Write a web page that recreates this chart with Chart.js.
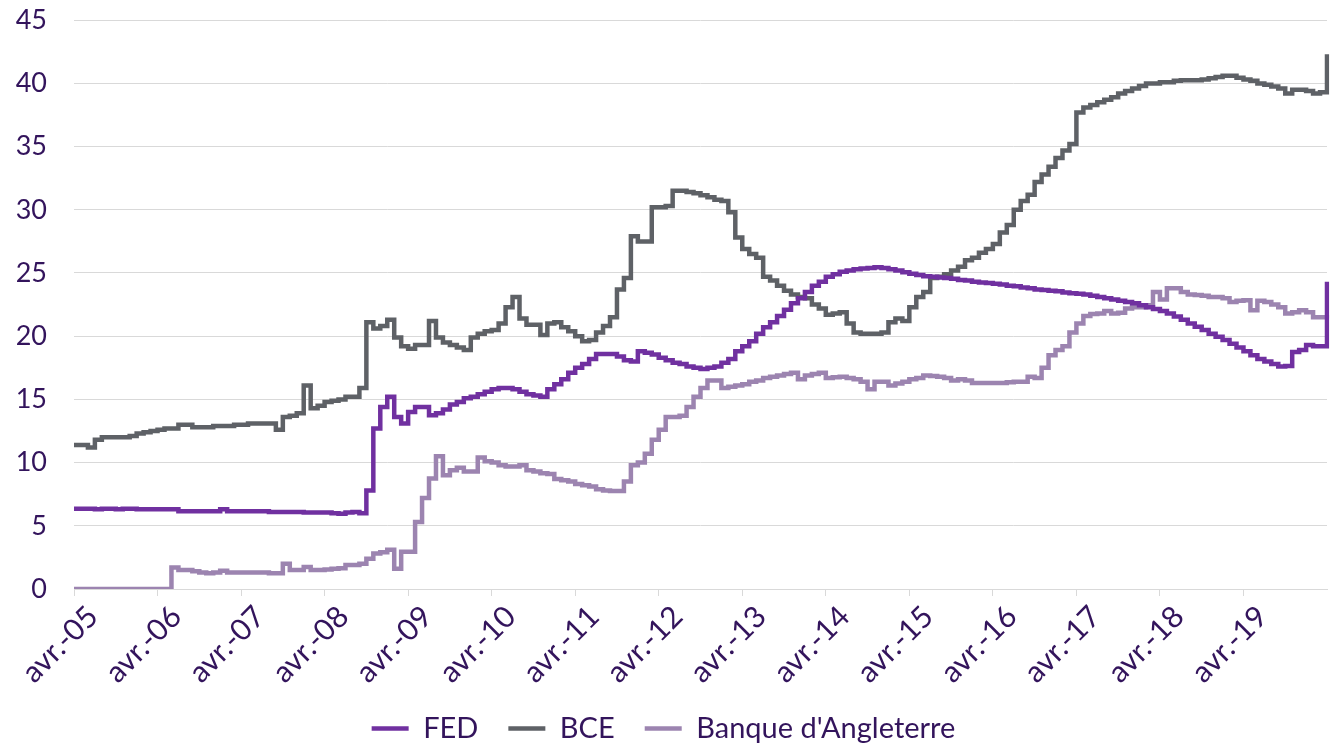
<!DOCTYPE html>
<html>
<head>
<meta charset="utf-8">
<script src="https://cdn.jsdelivr.net/npm/chart.js@4"></script>
<style>
  html, body { margin: 0; padding: 0; background: #fff; }
</style>
</head>
<body>
<canvas id="myChart" width="1335" height="744"></canvas>
<script>
// monthly points, avr. 2005 -> avr. 2020 (one row = one year, avr. -> mars)
const fed = [
  6.35, 6.35, 6.35, 6.3, 6.35, 6.35, 6.3, 6.35, 6.35, 6.3, 6.3, 6.3,
  6.3, 6.3, 6.3, 6.15, 6.15, 6.15, 6.15, 6.15, 6.15, 6.3, 6.15, 6.15,
  6.15, 6.15, 6.15, 6.15, 6.1, 6.1, 6.1, 6.1, 6.1, 6.05, 6.05, 6.05,
  6.05, 6.0, 5.95, 6.05, 6.1, 6.0, 7.8, 12.7, 14.4, 15.2, 13.6, 13.1,
  14.0, 14.4, 14.4, 13.75, 13.9, 14.2, 14.6, 14.8, 15.1, 15.2, 15.4, 15.6,
  15.8, 15.9, 15.9, 15.8, 15.6, 15.4, 15.3, 15.2, 15.8, 16.2, 16.6, 17.1,
  17.5, 17.8, 18.2, 18.6, 18.6, 18.6, 18.4, 18.1, 18.0, 18.8, 18.7, 18.55,
  18.3, 18.1, 17.9, 17.8, 17.6, 17.5, 17.4, 17.5, 17.6, 17.9, 18.2, 18.8,
  19.2, 19.6, 20.2, 20.7, 21.1, 21.6, 22.1, 22.6, 23.0, 23.5, 24.0, 24.3,
  24.7, 24.9, 25.1, 25.2, 25.3, 25.35, 25.4, 25.45, 25.4, 25.3, 25.2, 25.05,
  24.95, 24.85, 24.75, 24.7, 24.65, 24.6, 24.55, 24.45, 24.4, 24.3, 24.25, 24.2,
  24.15, 24.1, 24.0, 23.95, 23.85, 23.8, 23.7, 23.65, 23.6, 23.55, 23.45, 23.4,
  23.35, 23.3, 23.2, 23.1, 23.0, 22.9, 22.8, 22.7, 22.6, 22.45, 22.3, 22.15,
  22.0, 21.8, 21.55, 21.3, 21.0, 20.75, 20.5, 20.2, 19.95, 19.7, 19.4, 19.1,
  18.8, 18.5, 18.2, 18.0, 17.8, 17.6, 17.65, 18.75, 18.9, 19.3, 19.2, 19.2,
  24.3
];

const bce = [
  11.4, 11.4, 11.2, 11.8, 12.0, 12.0, 12.0, 12.0, 12.1, 12.3, 12.4, 12.5,
  12.6, 12.7, 12.7, 13.0, 13.0, 12.8, 12.8, 12.8, 12.9, 12.9, 12.9, 13.0,
  13.0, 13.1, 13.1, 13.1, 13.1, 12.6, 13.6, 13.7, 13.9, 16.1, 14.3, 14.5,
  14.8, 14.9, 15.0, 15.2, 15.2, 15.9, 21.1, 20.6, 20.8, 21.3, 19.9, 19.2,
  19.0, 19.3, 19.3, 21.2, 19.9, 19.5, 19.3, 19.1, 18.9, 19.9, 20.2, 20.4,
  20.5, 21.0, 22.3, 23.1, 21.4, 20.9, 20.9, 20.1, 21.0, 21.1, 20.7, 20.4,
  20.0, 19.6, 19.7, 20.3, 20.8, 21.5, 23.7, 24.6, 27.9, 27.5, 27.5, 30.2,
  30.2, 30.3, 31.5, 31.5, 31.4, 31.3, 31.15, 31.0, 30.8, 30.7, 29.8, 27.8,
  26.9, 26.5, 26.2, 24.7, 24.4, 24.0, 23.6, 23.3, 23.1, 23.0, 22.5, 22.2,
  21.7, 21.8, 21.9, 21.0, 20.3, 20.2, 20.2, 20.2, 20.3, 21.1, 21.4, 21.2,
  22.3, 23.1, 23.5, 24.6, 24.7, 24.9, 25.2, 25.5, 26.0, 26.2, 26.6, 26.9,
  27.3, 28.2, 28.8, 30.0, 30.7, 31.2, 32.2, 32.8, 33.4, 34.1, 34.7, 35.2,
  37.7, 38.1, 38.3, 38.5, 38.7, 38.9, 39.2, 39.4, 39.6, 39.8, 40.0, 40.0,
  40.1, 40.1, 40.2, 40.25, 40.25, 40.25, 40.3, 40.4, 40.5, 40.6, 40.6, 40.45,
  40.3, 40.2, 40.0, 39.9, 39.75, 39.6, 39.2, 39.5, 39.5, 39.4, 39.2, 39.3,
  42.3
];

const boe = [
  0, 0, 0, 0, 0, 0, 0, 0, 0, 0, 0, 0,
  0, 0, 1.7, 1.5, 1.5, 1.4, 1.3, 1.25, 1.3, 1.45, 1.3, 1.3,
  1.3, 1.3, 1.3, 1.3, 1.25, 1.25, 2.0, 1.5, 1.5, 1.75, 1.5, 1.5,
  1.55, 1.6, 1.65, 1.9, 1.9, 2.0, 2.4, 2.8, 2.9, 3.1, 1.6, 2.95,
  2.95, 5.3, 7.2, 8.75, 10.5, 9.0, 9.4, 9.6, 9.3, 9.3, 10.4, 10.1,
  10.0, 9.8, 9.7, 9.7, 9.8, 9.4, 9.3, 9.15, 9.1, 8.7, 8.6, 8.5,
  8.3, 8.2, 8.1, 7.9, 7.8, 7.75, 7.75, 8.5, 9.8, 10.0, 10.7, 11.8,
  12.6, 13.6, 13.6, 13.7, 14.4, 15.2, 15.9, 16.5, 16.5, 15.9, 16.0, 16.1,
  16.2, 16.4, 16.5, 16.7, 16.8, 16.9, 17.0, 17.1, 16.6, 16.9, 17.0, 17.1,
  16.7, 16.75, 16.8, 16.7, 16.6, 16.4, 15.8, 16.4, 16.4, 16.1, 16.25, 16.4,
  16.6, 16.7, 16.9, 16.85, 16.8, 16.7, 16.5, 16.6, 16.5, 16.3, 16.3, 16.3,
  16.3, 16.3, 16.35, 16.4, 16.4, 16.8, 16.7, 17.5, 18.5, 18.9, 19.2, 20.3,
  21.0, 21.6, 21.75, 21.8, 22.0, 21.8, 21.85, 22.2, 22.3, 22.3, 22.45, 23.5,
  22.9, 23.8, 23.8, 23.5, 23.3, 23.25, 23.2, 23.1, 23.1, 23.0, 22.7, 22.8,
  22.85, 22.05, 22.8, 22.7, 22.5, 22.3, 21.8, 21.9, 22.05, 21.9, 21.5, 21.5,
  21.4
];

const monthNames = ["janv.", "févr.", "mars", "avr.", "mai", "juin",
  "juil.", "août", "sept.", "oct.", "nov.", "déc."];

// category labels: one per month starting avr.-05
const labels = [];
for (let i = 0; i < fed.length; i++) {
  const m = (3 + i) % 12;
  const y = 2005 + Math.floor((3 + i) / 12);
  labels.push(monthNames[m] + "-" + String(y).slice(2));
}

const textColor = "#33145c";
const gridColor = "#d9d9d9";
Chart.defaults.font.family = "Lato";

var ctx = document.getElementById("myChart").getContext("2d");

var chart = new Chart(ctx, {
  type: "line",
  data: {
    labels: labels,
    datasets: [
      {
        label: "FED",
        data: fed,
        borderColor: "#7030a0",
        backgroundColor: "#7030a0",
        borderWidth: 4.5,
        stepped: true,
        pointRadius: 0,
        fill: false
      },
      {
        label: "BCE",
        data: bce,
        borderColor: "#5e6166",
        backgroundColor: "#5e6166",
        borderWidth: 4.5,
        stepped: true,
        pointRadius: 0,
        fill: false
      },
      {
        label: "Banque d'Angleterre",
        data: boe,
        borderColor: "#9c84b0",
        backgroundColor: "#9c84b0",
        borderWidth: 4.5,
        stepped: true,
        pointRadius: 0,
        fill: false
      }
    ]
  },
  options: {
    responsive: false,
    animation: false,
    layout: { padding: { top: 0, right: 8, left: 0, bottom: -9 } },
    plugins: {
      tooltip: { enabled: false },
      legend: {
        position: "bottom",
        labels: {
          usePointStyle: true,
          pointStyle: "line",
          pointStyleWidth: 37,
          color: textColor,
          font: { size: 29 },
          padding: 30
        }
      }
    },
    scales: {
      x: {
        grid: { drawOnChartArea: false, color: gridColor, tickLength: 7 },
        border: { color: gridColor },
        ticks: {
          autoSkip: false,
          minRotation: 45,
          maxRotation: 45,
          color: textColor,
          font: { size: 30 },
          padding: 3,
          labelOffset: 19,
          // only the april ticks are shown, the last point has no label
          callback: function (value, index) {
            return index % 12 === 0 && index < 180 ? this.getLabelForValue(value) : null;
          }
        },
        afterFit: function (scale) { scale.height = 95; }
      },
      y: {
        min: 0,
        max: 45,
        // invisible ticks push the labels left without adding top padding
        grid: { color: gridColor, drawTicks: true, tickLength: 23, tickColor: "rgba(0,0,0,0)" },
        border: { display: false },
        ticks: {
          stepSize: 5,
          color: textColor,
          font: { size: 27 },
          padding: 4
        },
        afterFit: function (scale) { scale.width = 74; }
      }
    }
  }
});
</script>
</body>
</html>
